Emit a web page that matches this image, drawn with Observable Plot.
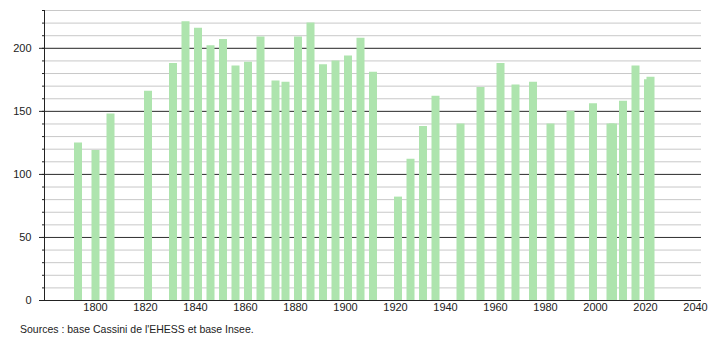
<!DOCTYPE html>
<html>
<head>
<meta charset="utf-8">
<script src="https://cdn.jsdelivr.net/npm/d3@7"></script>
<script src="https://cdn.jsdelivr.net/npm/@observablehq/plot@0.6"></script>
<style>
  body { margin: 0; background: #fff; font-family: "Liberation Sans", Arial, sans-serif; }
  #caption { font-size: 10.5px; color: #222; padding-left: 20px; margin-top: 7px; }
</style>
</head>
<body>
<div id="chart"></div>
<div id="caption">Sources : base Cassini de l'EHESS et base Insee.</div>
<script>
const years = [1793,1800,1806,1821,1831,1836,1841,1846,1851,1856,1861,1866,1872,1876,1881,1886,1891,1896,1901,1906,1911,1921,1926,1931,1936,1946,1954,1962,1968,1975,1982,1990,1999,2006,2007,2011,2016,2021,2022];
const population = [125,119,148,166,188,221,216,202,207,186,189,209,174,173,209,220,187,190,194,208,181,82,112,138,162,140,169,188,171,173,140,150,156,140,140,158,186,175,177];
const xTicks = [1800,1820,1840,1860,1880,1900,1920,1940,1960,1980,2000,2020,2040];
const yMajor = [0,50,100,150,200];
const yMinor = d3.range(0, 231, 10);
const xDomain = [1779.6, 2042.4];
const yDomain = [0, 230];

const data = years.map((y, i) => ({year: y, pop: population[i]}));

const chart = Plot.plot({
  width: 710,
  height: 316,
  marginLeft: 44,
  marginRight: 9,
  marginTop: 10,
  marginBottom: 16,
  style: {fontFamily: "Liberation Sans, Arial, sans-serif", fontSize: "11px", color: "#222", background: "#fff"},
  x: {domain: xDomain, axis: null},
  y: {domain: yDomain, axis: null},
  marks: [
    Plot.ruleY(yMinor, {stroke: "#c8c8c8", strokeWidth: 1}),
    Plot.ruleY(yMajor.filter(d => d > 0), {stroke: "#333", strokeWidth: 1}),
    Plot.ruleX(data, {x: "year", y1: 0, y2: "pop", stroke: "#aee4ae", strokeWidth: 8}),
    Plot.axisY(yMinor, {tickSize: 2, text: null, label: null, stroke: "#222"}),
    Plot.axisY(yMajor, {tickSize: 5, tickPadding: 8, label: null, stroke: "#222", fill: "#222"}),
    Plot.axisX(xTicks, {tickSize: 0, tickPadding: 3, label: null, tickFormat: d => String(d), fill: "#222"}),
    Plot.ruleX([xDomain[0]], {y1: yDomain[0], y2: yDomain[1], stroke: "#222"}),
    Plot.ruleY([0], {stroke: "#222"})
  ]
});
document.getElementById("chart").appendChild(chart);
</script>
</body>
</html>
